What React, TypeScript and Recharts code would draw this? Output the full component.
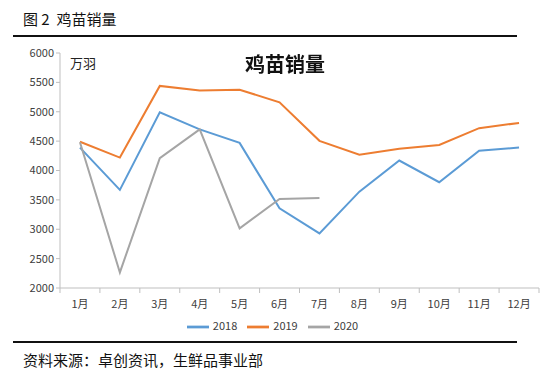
import React from 'react';
import { LineChart, Line, XAxis, YAxis, Legend } from 'recharts';

// Office palette
const C2018 = '#5b9bd5';
const C2019 = '#ed7d31';
const C2020 = '#a5a5a5';
const AXIS = '#bfbfbf';
const FONT = '"Noto Sans CJK SC", "Noto Sans", sans-serif';

const months = ['1月', '2月', '3月', '4月', '5月', '6月', '7月', '8月', '9月', '10月', '11月', '12月'];
const sales2018 = [4390, 3670, 4990, 4700, 4470, 3355, 2930, 3640, 4170, 3800, 4335, 4390];
const sales2019 = [4490, 4220, 5440, 5360, 5375, 5160, 4505, 4270, 4370, 4435, 4720, 4810];
const sales2020 = [4480, 2265, 4210, 4700, 3015, 3515, 3530, null, null, null, null, null];
const yTicks = [2000, 2500, 3000, 3500, 4000, 4500, 5000, 5500, 6000];

const data = months.map((m, i) => ({
  month: m,
  y2018: sales2018[i],
  y2019: sales2019[i],
  y2020: sales2020[i],
}));

const BAND = 479 / 12;

function MonthTick({ x, y, payload, index }: any) {
  return (
    <g>
      <line x1={x - BAND / 2} x2={x - BAND / 2} y1={y - 8} y2={y - 3} stroke={AXIS} />
      {index === months.length - 1 && (
        <line x1={x + BAND / 2} x2={x + BAND / 2} y1={y - 8} y2={y - 3} stroke={AXIS} />
      )}
      <text x={x} y={y + 12} textAnchor="middle" fontSize={11} fill="#404040" fontFamily={FONT}>
        {payload.value}
      </text>
    </g>
  );
}

export default function App() {
  return (
    <div style={{ position: 'fixed', left: 0, top: 0, width: 548, height: 383, background: '#fff', fontFamily: FONT }}>
      <div style={{ position: 'absolute', left: 23, top: 8, fontSize: 15, color: '#111' }}>图 2&nbsp;&nbsp;鸡苗销量</div>
      <div style={{ position: 'absolute', left: 13, top: 35, width: 504, height: 2, background: '#111' }} />

      <div style={{ position: 'absolute', left: 0, top: 40 }}>
        <LineChart width={548} height={300} data={data} margin={{ top: 13, right: 9, bottom: 0, left: 0 }}>
          <XAxis
            dataKey="month"
            scale="band"
            stroke={AXIS}
            tickLine={false}
            tick={<MonthTick />}
            height={30}
            interval={0}
          />
          <YAxis
            domain={[2000, 6000]}
            ticks={yTicks}
            width={60}
            stroke={AXIS}
            tickSize={4}
            tick={{ fontSize: 11, fill: '#404040', fontFamily: FONT }}
            interval={0}
          />
          <Legend
            verticalAlign="bottom"
            iconType="plainline"
            iconSize={22}
            wrapperStyle={{ bottom: 2, left: 8, fontSize: 11, fontFamily: FONT, color: '#404040' }}
            formatter={(v: string) => <span style={{ color: '#404040' }}>{v}</span>}
          />
          <Line dataKey="y2018" name="2018" stroke={C2018} strokeWidth={2} dot={false} isAnimationActive={false} />
          <Line dataKey="y2019" name="2019" stroke={C2019} strokeWidth={2} dot={false} isAnimationActive={false} />
          <Line dataKey="y2020" name="2020" stroke={C2020} strokeWidth={2} dot={false} isAnimationActive={false} />
        </LineChart>
      </div>

      <div style={{ position: 'absolute', left: 70, top: 53, fontSize: 13, color: '#222' }}>万羽</div>
      <div style={{ position: 'absolute', left: 0, width: 570, top: 49, textAlign: 'center', fontSize: 20, fontWeight: 700, color: '#111' }}>鸡苗销量</div>

      <div style={{ position: 'absolute', left: 13, top: 341, width: 504, height: 2, background: '#111' }} />
      <div style={{ position: 'absolute', left: 23, top: 349, fontSize: 15, color: '#111' }}>资料来源：卓创资讯，生鲜品事业部</div>
    </div>
  );
}
